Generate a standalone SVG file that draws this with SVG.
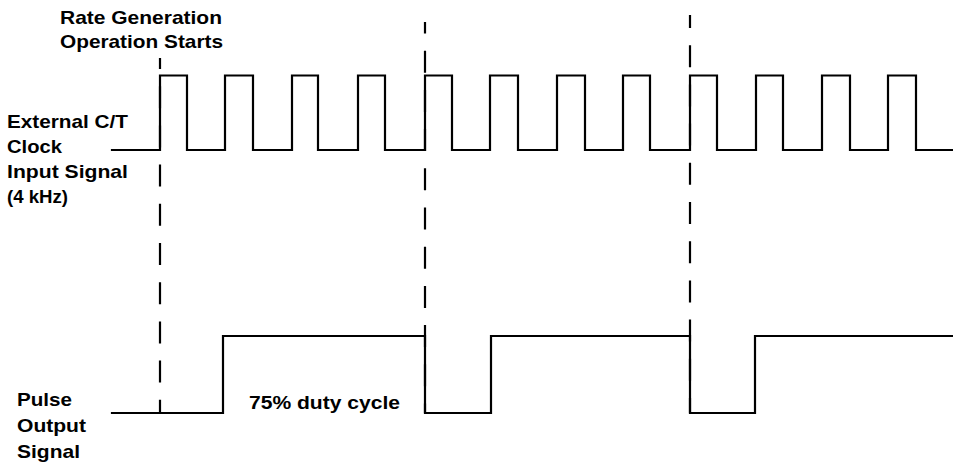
<svg xmlns="http://www.w3.org/2000/svg" width="953" height="469" viewBox="0 0 953 469">
<style>
.t{font-family:"Liberation Sans",Arial,Helvetica,sans-serif;font-weight:bold;font-size:18.6px;fill:#000}
.w{fill:none;stroke:#000;stroke-width:2.2;stroke-linejoin:miter;stroke-linecap:square}
.d{fill:none;stroke:#000;stroke-width:2.2;stroke-dasharray:22 17.2}
</style>
<rect width="953" height="469" fill="#fff"/>
<g id="labels">
<text class="t" x="60" y="24" textLength="162" lengthAdjust="spacingAndGlyphs">Rate Generation</text>
<text class="t" x="60" y="48" textLength="163" lengthAdjust="spacingAndGlyphs">Operation Starts</text>
<text class="t" x="7" y="128" textLength="121" lengthAdjust="spacingAndGlyphs">External C/T</text>
<text class="t" x="7" y="153" textLength="55" lengthAdjust="spacingAndGlyphs">Clock</text>
<text class="t" x="7" y="178" textLength="121" lengthAdjust="spacingAndGlyphs">Input Signal</text>
<text class="t" x="7" y="203" textLength="61" lengthAdjust="spacingAndGlyphs">(4 kHz)</text>
<text class="t" x="17" y="406" textLength="55" lengthAdjust="spacingAndGlyphs">Pulse</text>
<text class="t" x="17" y="432" textLength="69" lengthAdjust="spacingAndGlyphs">Output</text>
<text class="t" x="17" y="458" textLength="63" lengthAdjust="spacingAndGlyphs">Signal</text>
<text class="t" x="249" y="409" textLength="151" lengthAdjust="spacingAndGlyphs">75% duty cycle</text>
</g>
<g id="markers">
<line class="d" x1="160" y1="58" x2="160" y2="413" stroke-dashoffset="11"/>
<line class="d" x1="425" y1="22" x2="425" y2="413" stroke-dashoffset="10.5"/>
<line class="d" x1="690" y1="15" x2="690" y2="413" stroke-dashoffset="9"/>
</g>
<g id="clock">
<path class="w" d="M112,150 H160 V75.5 H187 V150 H225 V75.5 H253 V150 H292 V75.5 H318 V150 H358 V75.5 H385 V150 H425 V75.5 H452 V150 H490 V75.5 H518 V150 H557 V75.5 H585 V150 H623 V75.5 H650 V150 H690 V75.5 H717 V150 H756 V75.5 H783 V150 H822 V75.5 H850 V150 H888 V75.5 H916 V150 H952"/>
</g>
<g id="pulse">
<path class="w" d="M112,413 H223 V336 H425 V413 H491 V336 H690 V413 H755 V336 H952"/>
</g>
</svg>
